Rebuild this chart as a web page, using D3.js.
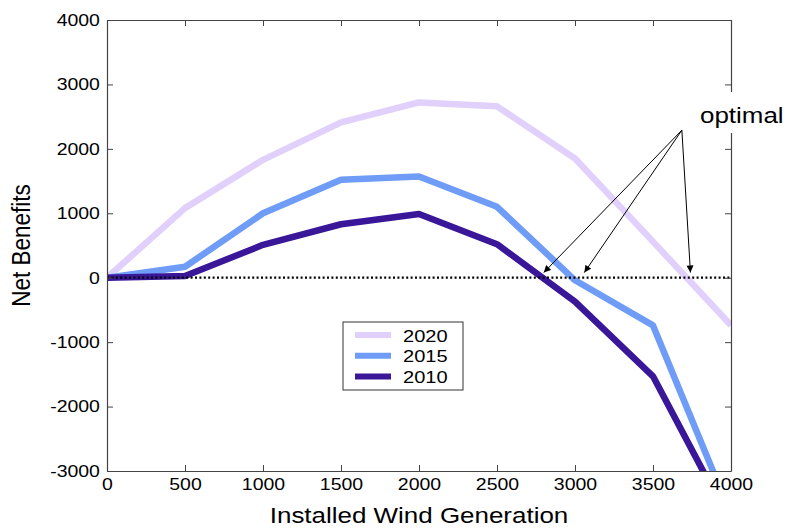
<!DOCTYPE html>
<html>
<head>
<meta charset="utf-8">
<script src="https://cdn.jsdelivr.net/npm/d3@7"></script>
<style>
  body { margin: 0; background: #fff; }
  text { font-family: "Liberation Sans", Arial, sans-serif; fill: #000; }
</style>
</head>
<body>
<div id="chart"></div>
<script>
// data
var xValues = [0, 500, 1000, 1500, 2000, 2500, 3000, 3500, 4000];
var net2020 = [0, 1080, 1830, 2410, 2720, 2660, 1850, 560, -740];
var net2015 = [0, 170, 1000, 1520, 1570, 1100, -40, -740, -3680];
var net2010 = [0, 25, 510, 830, 990, 520, -370, -1530, -3820];
var seriesNames = ['2020', '2015', '2010'];
var seriesColors = ['#e1d0fb', '#6e9cf6', '#3a1699'];
var xTicks = [0, 500, 1000, 1500, 2000, 2500, 3000, 3500, 4000];
var yTicks = [-3000, -2000, -1000, 0, 1000, 2000, 3000, 4000];
var optimalX = [2800, 3060, 3740];
var optimalFrom = [3685, 2290];

var width = 789,
  height = 528;
var margin = {top: 20, right: 58, bottom: 57, left: 107};
var sx = 'scale(1.18,1)'; // the picture is a bit wide, stretch the text
var plain = function(d) { return String(d); }; // no commas, plain hyphen

var svg = d3.select('#chart').append('svg')
    .attr('width', width)
    .attr('height', height);

var x = d3.scaleLinear()
    .domain([0, 4000])
    .range([margin.left, width - margin.right]);

var y = d3.scaleLinear()
    .domain([-3000, 4000])
    .range([height - margin.bottom, margin.top]);

svg.append('defs').append('clipPath')
    .attr('id', 'plot')
  .append('rect')
    .attr('x', x(0)).attr('y', y(4000))
    .attr('width', x(4000) - x(0))
    .attr('height', y(-3000) - y(4000));

// lines
var line = d3.line()
    .x(function(d) { return x(d[0]); })
    .y(function(d) { return y(d[1]); });

var series = [net2020, net2015, net2010];
svg.append('g')
    .attr('clip-path', 'url(#plot)')
  .selectAll('path')
  .data(series)
  .enter().append('path')
    .attr('d', function(s) { return line(s.map(function(v, i) { return [xValues[i], v]; })); })
    .attr('fill', 'none')
    .attr('stroke', function(s, i) { return seriesColors[i]; })
    .attr('stroke-width', 6.5)
    .attr('stroke-linejoin', 'round');

// dotted zero line
svg.append('line')
    .attr('x1', x(0)).attr('x2', x(4000))
    .attr('y1', y(0)).attr('y2', y(0))
    .attr('stroke', '#000')
    .attr('stroke-width', 2.2)
    .attr('stroke-dasharray', '2,2.4');

// axes
var axisColor = '#444';
var bottom = svg.append('g')
    .attr('transform', 'translate(0,' + y(-3000) + ')')
    .call(d3.axisBottom(x).tickValues(xTicks).tickFormat(plain)
      .tickSizeInner(-6).tickSizeOuter(0).tickPadding(7));
bottom.selectAll('text').style('font-size', '16.5px').attr('transform', sx);

var left = svg.append('g')
    .attr('transform', 'translate(' + x(0) + ',0)')
    .call(d3.axisLeft(y).tickValues(yTicks).tickFormat(plain)
      .tickSizeInner(-6).tickSizeOuter(0).tickPadding(6));
left.selectAll('text').style('font-size', '16.5px').attr('transform', sx);

svg.append('g')
    .attr('transform', 'translate(0,' + y(4000) + ')')
    .call(d3.axisTop(x).tickValues(xTicks).tickSizeInner(-6).tickSizeOuter(0).tickFormat(''));

svg.append('g')
    .attr('transform', 'translate(' + x(4000) + ',0)')
    .call(d3.axisRight(y).tickValues(yTicks).tickSizeInner(-6).tickSizeOuter(0).tickFormat(''));

svg.selectAll('.domain').attr('stroke', axisColor).attr('stroke-width', 1.2);
svg.selectAll('.tick line').attr('stroke', axisColor);

// axis titles
svg.append('text')
    .attr('transform', 'translate(' + ((x(0) + x(4000)) / 2) + ',523) ' + sx)
    .attr('text-anchor', 'middle')
    .style('font-size', '22px')
    .text('Installed Wind Generation');

svg.append('text')
    .attr('transform', 'translate(30,' + y(500) + ') rotate(-90) scale(1,1.18)')
    .attr('text-anchor', 'middle')
    .style('font-size', '22.5px')
    .text('Net Benefits');

// legend
var key = svg.append('g')
    .attr('transform', 'translate(343,322)');

key.append('rect')
    .attr('width', 120).attr('height', 68)
    .attr('fill', '#fff')
    .attr('stroke', '#333');

var item = key.selectAll('.item')
    .data(seriesNames)
  .enter().append('g')
    .attr('class', 'item')
    .attr('transform', function(d, i) { return 'translate(0,' + (13 + i * 20.7) + ')'; });

item.append('line')
    .attr('x1', 12).attr('x2', 48)
    .attr('stroke', function(d, i) { return seriesColors[i]; })
    .attr('stroke-width', 6);

item.append('text')
    .attr('transform', 'translate(60,6.5) ' + sx)
    .style('font-size', '17px')
    .text(function(d) { return d; });

// "optimal" annotation
svg.append('defs').append('marker')
    .attr('id', 'arrow')
    .attr('viewBox', '0 0 10 10')
    .attr('refX', 10).attr('refY', 5)
    .attr('markerUnits', 'userSpaceOnUse')
    .attr('markerWidth', 8).attr('markerHeight', 7)
    .attr('orient', 'auto')
  .append('path')
    .attr('d', 'M0,0L10,5L0,10z')
    .attr('fill', '#000');

svg.append('rect')
    .attr('x', 694).attr('y', 92)
    .attr('width', 95).attr('height', 41)
    .attr('fill', '#fff');

svg.append('text')
    .attr('transform', 'translate(700,123) ' + sx)
    .style('font-size', '22px')
    .text('optimal');

svg.append('g').selectAll('line')
    .data(optimalX)
  .enter().append('line')
    .attr('x1', x(optimalFrom[0])).attr('y1', y(optimalFrom[1]))
    .attr('x2', function(d) { return x(d); }).attr('y2', y(80))
    .attr('stroke', '#000')
    .attr('stroke-width', 1)
    .attr('marker-end', 'url(#arrow)');
</script>
</body>
</html>
